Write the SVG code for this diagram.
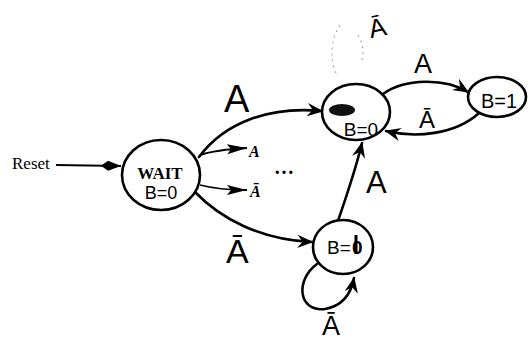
<svg xmlns="http://www.w3.org/2000/svg" width="528" height="340" viewBox="0 0 528 340">
<defs>
<marker id="hand" viewBox="0 0 12 10" refX="11" refY="5" markerWidth="16" markerHeight="14" markerUnits="userSpaceOnUse" orient="auto">
<path d="M0,0 L12,5 L0,10 L4,5 z" fill="#000"/>
</marker>
<marker id="print" viewBox="0 0 20 12" refX="20" refY="6" markerWidth="20" markerHeight="12" markerUnits="userSpaceOnUse" orient="auto">
<path d="M0,1 L20,6 L0,11 L4,6 z" fill="#000"/>
</marker>
<marker id="reset" viewBox="0 0 20 12" refX="20" refY="6" markerWidth="20" markerHeight="13" markerUnits="userSpaceOnUse" orient="auto">
<path d="M0,6 L7,1 L20,6 L7,11 z" fill="#000"/>
</marker>
<style>
.st{fill:#fff;stroke:#000;stroke-width:2.6}
.e{fill:none;stroke:#000;stroke-width:2.6;stroke-linecap:round}
.p{fill:none;stroke:#000;stroke-width:1.8}
.hw{font-family:"Liberation Sans",Arial,sans-serif;fill:#000}
.sf{font-family:"Liberation Serif","Times New Roman",serif;fill:#000}
.faint{fill:none;stroke:#aaa;stroke-width:1.2;stroke-dasharray:2 4}
</style>
</defs>
<rect width="528" height="340" fill="#fff"/>

<g id="connectors">
<line class="p" x1="56" y1="165" x2="121" y2="166" marker-end="url(#reset)"/>
<path class="e" d="M199,157 C225,122 270,106 322,111" marker-end="url(#hand)"/>
<path class="p" d="M200,155 C215,150 230,149 247,148" marker-end="url(#print)"/>
<path class="p" d="M200,185 C215,189 230,190 247,190" marker-end="url(#print)"/>
<path class="e" d="M195,192 C220,218 260,240 312,242" marker-end="url(#hand)"/>
<path class="e" d="M338,221 C345,200 355,172 362,143" marker-end="url(#hand)"/>
<path class="e" d="M383,94 C405,78 445,78 468,92" marker-end="url(#hand)"/>
<path class="e" d="M479,113 C455,135 415,138 386,131" marker-end="url(#hand)"/>
<path class="e" d="M317,264 C295,280 298,312 325,309 C342,306 351,294 354,278" marker-end="url(#hand)"/>
</g>

<g id="labels">
<text class="sf" x="12" y="169" font-size="17">Reset</text>
<text class="hw" x="224" y="112" font-size="38">A</text>
<text class="sf" x="249" y="157" font-size="16" font-style="italic" font-weight="bold">A</text>
<text class="sf" x="250" y="197" font-size="16" font-style="italic" font-weight="bold">Ā</text>
<text class="sf" x="274" y="174" font-size="20" font-weight="bold">…</text>
<text class="hw" x="226" y="263" font-size="34">Ā</text>
<text class="hw" x="366" y="193" font-size="31">A</text>
<text class="hw" x="414" y="73" font-size="27">A</text>
<text class="hw" x="419" y="128" font-size="24">Ā</text>
<text class="hw" x="322" y="335" font-size="27">Ā</text>
<text class="hw" x="368" y="37" font-size="26" transform="rotate(-12 375 25)">Ā</text>
<path class="faint" d="M340,25 C330,40 330,60 336,73"/>
<path class="faint" d="M358,35 C364,45 364,55 361,63"/>
</g>

<g id="wait">
<ellipse class="st" cx="161" cy="175" rx="39" ry="35"/>
<text class="sf" x="160" y="179" font-size="17" font-weight="bold" text-anchor="middle">WAIT</text>
<text class="hw" x="161" y="199" font-size="18" text-anchor="middle">B=0</text>
</g>

<g id="s_b0_top">
<ellipse class="st" cx="356" cy="112" rx="34" ry="28"/>
<ellipse cx="342" cy="110" rx="13" ry="6" fill="#111"/>
<text class="hw" x="361" y="136" font-size="19" text-anchor="middle">B=0</text>
</g>

<g id="s_b1">
<ellipse class="st" cx="497" cy="97" rx="29" ry="20"/>
<text class="hw" x="499" y="108" font-size="20" text-anchor="middle">B=1</text>
</g>

<g id="s_b0_bottom">
<ellipse class="st" cx="343" cy="247" rx="30" ry="27"/>
<text class="hw" x="327" y="254" font-size="19">B=</text>
<text class="hw" x="352" y="254" font-size="19" font-weight="bold">0</text>
<line x1="356" y1="235" x2="356" y2="254" stroke="#000" stroke-width="3"/>
</g>
</svg>
